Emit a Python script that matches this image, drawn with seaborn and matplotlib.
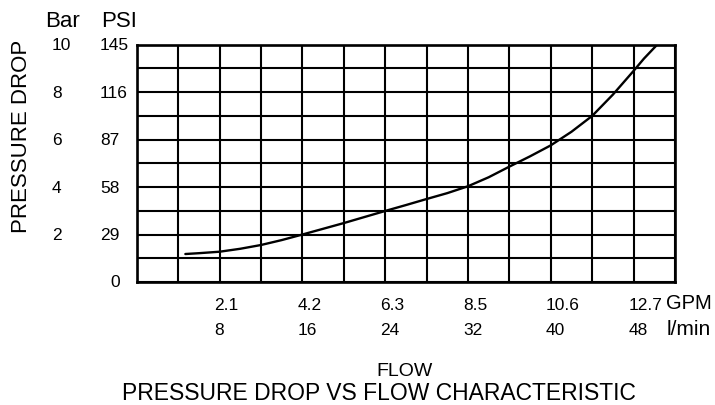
import numpy as np
import pandas as pd
import matplotlib
matplotlib.use("Agg")
import matplotlib.pyplot as plt
import matplotlib.transforms as mtransforms
import seaborn as sns

# ---- data ----
flow_lpm = [4.7, 6, 8, 10, 12, 14, 16, 18, 20, 22, 24, 26, 28, 30, 32, 34, 36,
            38, 40, 42, 44, 46, 48, 49, 50.5]
pressure_psi = [17.1, 17.6, 18.5, 20.3, 22.6, 25.6, 29.0, 32.5, 36.0, 39.7, 43.4,
                47.0, 50.7, 54.3, 58.5, 64.0, 70.5, 76.8, 83.5, 91.8, 101.5, 114.5,
                129.0, 136.5, 146.5]

x_tick_lpm = [8, 16, 24, 32, 40, 48]
x_labels_gpm = ["2.1", "4.2", "6.3", "8.5", "10.6", "12.7"]
x_labels_lpm = ["8", "16", "24", "32", "40", "48"]

y_tick_psi = [0, 29, 58, 87, 116, 145]
y_labels_psi = ["0", "29", "58", "87", "116", "145"]
y_labels_bar = ["", "2", "4", "6", "8", "10"]

df = pd.DataFrame({"flow": flow_lpm, "psi": pressure_psi})

sns.set_style("white")
plt.rcParams["font.family"] = ["Liberation Sans", "DejaVu Sans"]
plt.rcParams["text.color"] = "black"

W, H = 715, 406
fig = plt.figure(figsize=(W / 100, H / 100), dpi=100)
left, right, top, bottom = 136.7, 675, 45.7, 283
ax = fig.add_axes([left / W, 1 - bottom / H, (right - left) / W, (bottom - top) / H])

sns.lineplot(data=df, x="flow", y="psi", ax=ax, color="black", linewidth=1.7,
             estimator=None, sort=False)

ax.set_xlim(0, 52)
ax.set_ylim(0, 145)
ax.set_xticks(np.arange(0, 52.1, 4))
ax.set_yticks(np.linspace(0, 145, 11))
ax.tick_params(length=0, labelbottom=False, labelleft=False)
ax.grid(True, color="black", linewidth=1.5)
ax.set_axisbelow(True)
for sp in ax.spines.values():
    sp.set_color("black")
    sp.set_linewidth(1.9)
ax.set_xlabel("")
ax.set_ylabel("")

# x tick labels (two rows)
tx = mtransforms.blended_transform_factory(ax.transData, fig.transFigure)
tx_off = mtransforms.offset_copy(tx, fig=fig, x=-5, y=0, units="dots")
for xv, g, l in zip(x_tick_lpm, x_labels_gpm, x_labels_lpm):
    ax.text(xv, 1 - 305 / H, g, transform=tx_off, ha="left", va="center", fontsize=12.5)
    ax.text(xv, 1 - 331 / H, l, transform=tx_off, ha="left", va="center", fontsize=12.5)
fig.text(666 / W, 1 - 304 / H, "GPM", ha="left", va="center", fontsize=14.5)
fig.text(667 / W, 1 - 330 / H, "l/min", ha="left", va="center", fontsize=15)

# y tick labels (two columns)
ty = mtransforms.blended_transform_factory(fig.transFigure, ax.transData)
for yv, p, b in zip(y_tick_psi, y_labels_psi, y_labels_bar):
    px = 110 if p == "0" else 100
    ax.text(px / W, yv, p, transform=ty, ha="left", va="center", fontsize=12.5)
    if b:
        ax.text(52 / W, yv, b, transform=ty, ha="left", va="center", fontsize=12.5)

fig.text(62.5 / W, 1 - 21.7 / H, "Bar", ha="center", va="center", fontsize=16)
fig.text(119.5 / W, 1 - 21.7 / H, "PSI", ha="center", va="center", fontsize=16)
fig.text(22 / W, 1 - 136 / H, "PRESSURE DROP", rotation=90, ha="center", va="center", fontsize=16)
fig.text(405 / W, 1 - 372 / H, "FLOW", ha="center", va="center", fontsize=14)
fig.text(379 / W, 1 - 394 / H, "PRESSURE DROP VS FLOW CHARACTERISTIC", ha="center", va="center", fontsize=16.5)

fig.savefig("out.png", dpi=100, facecolor="white")
